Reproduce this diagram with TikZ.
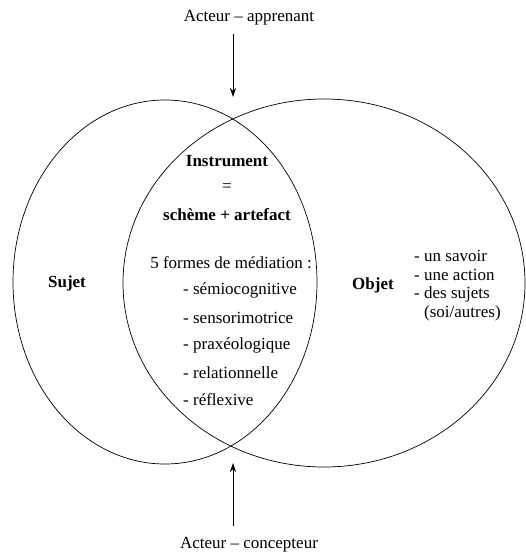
\documentclass[tikz,border=0pt]{standalone}
\usepackage{fontspec}
\setmainfont{Liberation Serif}
\usetikzlibrary{arrows.meta}
\tikzset{
  txt/.style={inner sep=0pt, font=\fontsize{17}{20}\selectfont},
  bld/.style={txt, font=\fontsize{17}{20}\selectfont\bfseries},
  item/.style={txt, anchor=west},
  arr/.style={-{Stealth[length=9pt,width=6pt]}, line width=0.8pt}
}
\newcommand{\dashitem}[1]{\makebox[10pt][l]{-}#1}
\begin{document}
\begin{tikzpicture}[x=1pt,y=-1pt]
\useasboundingbox (0,0) rectangle (526,554);
\draw[line width=0.7pt] (165,282) ellipse (152 and 182);
\draw[line width=0.7pt] (324,283) ellipse (201 and 184);

\node[txt] (app) at (249,18){Acteur -- apprenant};
\coordinate (top) at (233,97);
\draw[arr] (233,34) -- (top);
\node[txt] (conc) at (249,545){Acteur -- concepteur};
\coordinate (bot) at (233,463);
\draw[arr] (233,526) -- (bot);

\node[bld] (suj) at (67,283){Sujet};
\node[bld] (obj) at (373,285){Objet};

\node[bld] (ins) at (227,161){Instrument};
\node[txt] (eq) at (227,188){=};
\node[bld] (sch) at (227,215){schème + artefact};
\node[txt] (med) at (231,263){5 formes de médiation :};
\node[item] (m1) at (183,290){- sémiocognitive};
\node[item] (m2) at (183,318){- sensorimotrice};
\node[item] (m3) at (183,345){- praxéologique};
\node[item] (m4) at (183,373){- relationnelle};
\node[item] (m5) at (183,400){- réflexive};

\node[item] (o1) at (414,256){\dashitem{un savoir}};
\node[item] (o2) at (414,275){\dashitem{une action}};
\node[item] (o3) at (414,294){\dashitem{des sujets}};
\node[item] (o4) at (424,313){(soi/autres)};
\end{tikzpicture}
\end{document}
